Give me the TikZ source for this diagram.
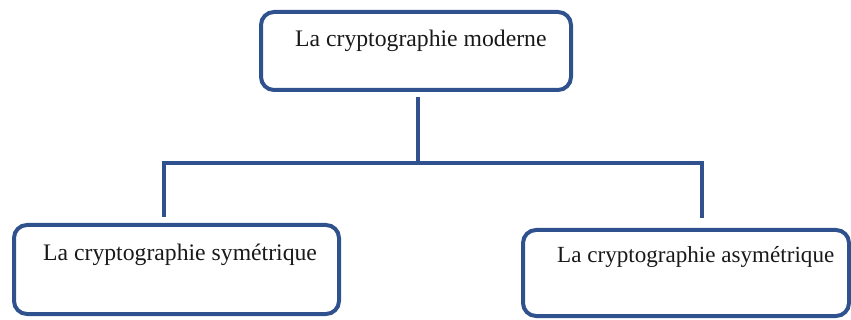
\documentclass[tikz,border=0pt]{standalone}
\usepackage{fontspec}
\setmainfont{Liberation Serif}
\definecolor{boxblue}{RGB}{47,82,143}
\begin{document}
\begin{tikzpicture}[x=1pt,y=-1pt,
  box/.style={draw=boxblue, line width=4pt, rounded corners=13pt, rectangle, inner sep=0pt},
  conn/.style={draw=boxblue, line width=4pt, line join=miter},
  lbl/.style={anchor=base west, inner sep=0pt, font=\fontsize{23.7}{28}\selectfont, text=black!90}]
  \useasboundingbox (0,0) rectangle (851,320);

  % boxes
  \node[box, minimum width=310pt, minimum height=78pt] (top) at (416,51) {};
  \node[box, minimum width=325pt, minimum height=89pt] (sym) at (176.5,269.5) {};
  \node[box, minimum width=326pt, minimum height=86pt] (asym) at (686,273) {};

  % labels
  \node[lbl] (ttop) at (295,47) {La cryptographie moderne};
  \node[lbl] (tsym) at (43,261) {La cryptographie symétrique};
  \node[lbl, font=\fontsize{23.1}{28}\selectfont] (tasym) at (557,263) {La cryptographie asymétrique};

  % branching connector
  \coordinate (jT) at (418,163);
  \coordinate (jL) at (164,163);
  \coordinate (jR) at (702,163);
  \draw[conn] ([yshift=-5pt]top.south -| jT) -- (jT);
  \draw[conn] ([yshift=6pt]sym.north -| jL) -- (jL) -- (jR) -- ([yshift=10pt]asym.north -| jR);
\end{tikzpicture}
\end{document}
